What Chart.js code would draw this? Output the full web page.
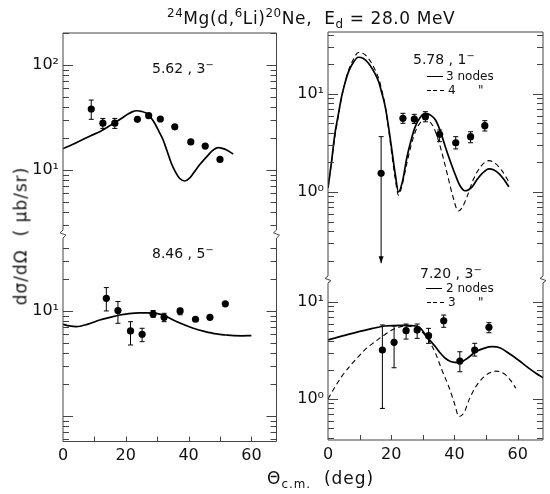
<!DOCTYPE html>
<html>
<head>
<meta charset="utf-8">
<script src="https://cdn.jsdelivr.net/npm/chart.js@4.4.0/dist/chart.umd.min.js"></script>
<style>
html,body{margin:0;padding:0;background:#fff;}
#fig{position:relative;width:550px;height:494px;overflow:hidden;font-family:"DejaVu Sans",sans-serif;color:#111;}
#fig canvas{position:absolute;left:0;top:0;}
.t{position:absolute;white-space:nowrap;line-height:1;}
.t sup{font-size:0.7em;vertical-align:0.55em;line-height:0;}
.t sub{font-size:0.7em;vertical-align:-0.35em;line-height:0;}
.ls{position:absolute;height:0;border-top:1.6px solid #000;width:16px;}
.ld{position:absolute;height:1.2px;width:17px;background:repeating-linear-gradient(to right,#000 0 4px,transparent 4px 6.5px);}
</style>
</head>
<body>
<div id="fig">
<canvas id="cUL" width="550" height="494"></canvas>
<canvas id="cLL" width="550" height="494"></canvas>
<canvas id="cUR" width="550" height="494"></canvas>
<canvas id="cLR" width="550" height="494"></canvas>

<div class="t" style="left:167px;top:10px;font-size:17px;letter-spacing:0.6px;"><sup>24</sup>Mg(d,<sup>6</sup>Li)<sup>20</sup>Ne,&nbsp; E<sub>d</sub> = 28.0 MeV</div>
<div class="t" style="left:21px;top:236px;font-size:17px;letter-spacing:1px;transform:translate(-50%,-50%) rotate(-90deg);">dσ/dΩ&nbsp; ( μb/sr)</div>
<div class="t" style="left:267px;top:470px;font-size:17px;letter-spacing:1px;">Θ<sub>c.m.</sub>&nbsp; (deg)</div>

<div class="t" style="left:152px;top:61px;font-size:14px;">5.62 , 3<sup>−</sup></div>
<div class="t" style="left:152px;top:246px;font-size:14px;">8.46 , 5<sup>−</sup></div>

<div class="t" style="left:413px;top:52px;font-size:14px;">5.78 , 1<sup>−</sup></div>
<div class="ls" style="left:427px;top:76px;"></div>
<div class="t" style="left:446px;top:70px;font-size:12px;">3 nodes</div>
<div class="ld" style="left:427px;top:90px;"></div>
<div class="t" style="left:448px;top:84px;font-size:12px;">4</div>
<div class="t" style="left:478px;top:84px;font-size:12px;">"</div>

<div class="t" style="left:420px;top:266px;font-size:14px;">7.20 , 3<sup>−</sup></div>
<div class="ls" style="left:426px;top:288px;"></div>
<div class="t" style="left:446px;top:282px;font-size:12px;">2 nodes</div>
<div class="ld" style="left:427px;top:302px;"></div>
<div class="t" style="left:448px;top:296px;font-size:12px;">3</div>
<div class="t" style="left:478px;top:296px;font-size:12px;">"</div>
</div>

<script>
// ---------- data: 5.62 MeV, 3- ----------
const th562 = [9.0, 12.7, 16.5, 23.7, 27.3, 31.0, 35.6, 40.7, 45.3, 50.0];
const xs562 = [38.1, 27.9, 27.9, 30.4, 32.9, 30.6, 25.8, 18.5, 16.9, 12.6];
const lo562 = [30.4, 24.9, 24.9, null, null, null, null, null, null, null];
const hi562 = [46.4, 31.0, 31.0, null, null, null, null, null, null, null];
const thFit562 = [0, 3, 6.3, 9, 11.7, 14.5, 17, 19, 20.7, 22.2, 23.4, 25, 26.6, 28, 29.2, 30.5, 31.9, 33.2, 34.5, 35.8, 37.2, 38.8, 40.2, 41.5, 43.5, 45.8, 47.5, 49.5, 51, 52.1, 54.2];
const fit562 = [16, 17.5, 19.5, 21.3, 23.2, 26, 28.8, 31.5, 34.1, 36, 36.7, 36.2, 34.7, 31.5, 27.9, 23.5, 19.3, 15, 11.6, 9.6, 8.3, 7.85, 8.3, 9.3, 11.2, 13.4, 15.2, 16.3, 16, 15.5, 14.2];

// ---------- data: 8.46 MeV, 5- ----------
const th846 = [13.8, 17.5, 21.5, 25.2, 28.7, 32.2, 37.3, 42.2, 46.8, 51.7];
const xs846 = [13.2, 10.1, 6.45, 6.0, 9.36, 8.7, 10.0, 8.34, 8.7, 11.7];
const lo846 = [10.0, 7.63, 4.74, 5.1, 8.7, 7.9, 9.2, null, null, null];
const hi846 = [16.7, 12.3, 7.9, 6.84, 10.1, 9.5, 10.6, null, null, null];
const thFit846 = [0, 2, 4.2, 8, 11.7, 15, 18, 21, 24.4, 27, 29.8, 32.5, 35.1, 38, 41.5, 45, 48.9, 52, 54.3, 57, 60];
const fit846 = [7.47, 7.2, 7.08, 7.5, 8.2, 8.7, 9.16, 9.45, 9.6, 9.6, 9.5, 9.0, 8.2, 7.5, 6.84, 6.4, 6.04, 5.9, 5.82, 5.8, 5.82];

// ---------- data: 5.78 MeV, 1- ----------
const th578 = [16.8, 23.7, 27.3, 30.8, 35.3, 40.4, 45.1, 49.6];
const xs578 = [1.55, 5.65, 5.56, 5.87, 3.88, 3.18, 3.67, 4.75];
const lo578 = [0.188, 5.02, 5.0, 5.2, 3.26, 2.75, 3.18, 4.19];
const hi578 = [3.67, 6.35, 6.2, 6.6, 4.29, 3.67, 4.12, 5.34];
const arrow578 = [true, false, false, false, false, false, false, false];
const thFit578n3 = [0, 1, 2.2, 3.2, 4.3, 5.4, 6.5, 8, 9.6, 11.2, 12.8, 14.4, 16, 17, 18.1, 19.2, 20.2, 21.3, 22.3, 23.6, 25, 26.3, 27.6, 29.2, 30.8, 32.4, 34, 35.5, 37.1, 38.7, 40.3, 41.8, 43.3, 45.6, 47.2, 48.8, 50.9, 52.5, 54, 55.6, 57.2];
const fit578n3 = [1.1, 1.9, 3.97, 6.0, 9.4, 13, 16.9, 21, 23.7, 23, 20.6, 17.2, 13.4, 10.3, 7.42, 4.5, 2.68, 1.5, 1.0, 1.3, 2.29, 3.4, 4.64, 5.8, 6.35, 6.1, 5.43, 4.2, 2.9, 2.05, 1.49, 1.15, 1.03, 1.13, 1.35, 1.55, 1.72, 1.68, 1.55, 1.35, 1.13];
const thFit578n4 = [0, 1, 2.2, 3.2, 4.3, 5.4, 6.5, 8, 9.6, 11.2, 12.8, 14.4, 16, 17, 18, 19, 20, 21.2, 22.3, 23.5, 25, 26.3, 27.6, 29, 30.5, 32, 33.5, 35, 36.5, 38, 39.5, 41.2, 42.5, 44, 46, 48.5, 50.9, 53, 55, 57];
const fit578n4 = [1.1, 1.9, 3.7, 5.8, 9.2, 13.2, 17.5, 22.5, 26.5, 25.8, 23, 19, 14.5, 11, 7.8, 4.8, 2.7, 1.4, 0.93, 1.2, 2.0, 3.0, 4.1, 5.0, 5.6, 5.3, 4.5, 3.3, 2.2, 1.4, 0.9, 0.64, 0.7, 0.9, 1.35, 1.85, 2.09, 1.95, 1.65, 1.3];

// ---------- data: 7.20 MeV, 3- ----------
const th720 = [17.2, 20.9, 24.7, 28.2, 31.8, 36.6, 41.7, 46.4, 50.9];
const xs720 = [3.2, 3.84, 5.06, 5.14, 4.5, 6.41, 2.46, 3.2, 5.49];
const lo720 = [0.80, 2.1, 4.15, 4.22, 3.75, 5.49, 1.91, 2.77, 4.82];
const hi720 = [5.8, 5.65, 5.93, 5.93, 5.35, 7.34, 3.07, 3.75, 6.12];
const thFit720n2 = [0, 6.4, 12.8, 18.1, 23.4, 26, 28.7, 30, 31.3, 32.6, 34, 35.5, 37.1, 39, 41.4, 44, 46.7, 49.5, 52, 54.5, 57.2, 60.5, 63.6, 66, 68];
const fit720n2 = [4.06, 4.64, 5.23, 5.66, 5.75, 5.72, 5.56, 5.0, 4.39, 3.9, 3.46, 2.98, 2.63, 2.42, 2.37, 2.62, 3.07, 3.35, 3.46, 3.35, 2.96, 2.48, 2.07, 1.82, 1.66];
const thFit720n3 = [0, 2, 4.3, 7, 9.6, 12, 14.9, 17.5, 20.2, 22.3, 24.4, 27, 29.7, 32, 34, 36, 38.2, 40, 41.4, 43, 44.6, 46.5, 48.8, 51, 53, 54.6, 56.2, 58, 59.4];
const fit720n3 = [1.0, 1.3, 1.7, 2.2, 2.73, 3.3, 3.9, 4.5, 5.14, 5.5, 5.66, 5.5, 4.94, 3.95, 2.96, 2.0, 1.34, 0.9, 0.66, 0.72, 0.98, 1.3, 1.63, 1.85, 1.94, 1.9, 1.77, 1.52, 1.29];

// ---------- tick labels ----------
const xTickLabels = [0, 20, 40, 60];
const decadeExp = {'0': '10⁰', '1': '10¹', '2': '10²'};

// ---------- helpers ----------
function zeroPad(s) { s.paddingTop = 0; s.paddingBottom = 0; s.paddingLeft = 0; s.paddingRight = 0; }
const YW = 50;   // fixed y-axis box width
const XH = 30;   // fixed x-axis box height (bottom panels)

const framePlugin = {
  id: 'frame',
  afterDatasetsDraw(chart, args, opts) {
    const {ctx, chartArea: a, scales: {x, y}} = chart;
    ctx.save();
    ctx.strokeStyle = '#444';
    ctx.lineWidth = 1;
    ctx.beginPath();
    ctx.moveTo(a.left, a.top); ctx.lineTo(a.left, a.bottom);
    ctx.moveTo(a.right, a.top); ctx.lineTo(a.right, a.bottom);
    if (opts.top) { ctx.moveTo(a.left, a.top); ctx.lineTo(a.right, a.top); }
    if (opts.bottom) { ctx.moveTo(a.left, a.bottom); ctx.lineTo(a.right, a.bottom); }
    const e0 = Math.floor(Math.log10(y.min)), e1 = Math.ceil(Math.log10(y.max));
    for (let e = e0; e <= e1; e++) {
      for (let m = 1; m <= 9; m++) {
        const v = m * Math.pow(10, e);
        if (v < y.min || v > y.max) continue;
        const py = Math.round(y.getPixelForValue(v)) + 0.5;
        const len = m === 1 ? 10 : 6;
        ctx.moveTo(a.left, py); ctx.lineTo(a.left + len, py);
        ctx.moveTo(a.right, py); ctx.lineTo(a.right - len, py);
      }
    }
    if (opts.bottom) {
      for (let t = 10; t <= 60; t += 10) {
        const px = Math.round(x.getPixelForValue(t)) + 0.5;
        ctx.moveTo(px, a.bottom); ctx.lineTo(px, a.bottom - 5);
      }
    }
    if (opts.breakGap) {
      const g = opts.breakGap, b = a.bottom;
      [a.left, a.right].forEach(px => {
        ctx.moveTo(px, b);
        ctx.lineTo(px - 3, b + g * 0.35);
        ctx.lineTo(px + 3, b + g * 0.65);
        ctx.lineTo(px, b + g);
      });
    }
    ctx.stroke();
    ctx.strokeStyle = '#000';
    ctx.fillStyle = '#000';
    chart.data.datasets.forEach(ds => {
      if (!ds.errLo) return;
      ds.data.forEach((p, j) => {
        const l = ds.errLo[j], h = ds.errHi[j];
        if (l == null || h == null) return;
        const px = x.getPixelForValue(p.x);
        const yl = y.getPixelForValue(l), yh = y.getPixelForValue(h);
        const arrow = ds.arrow && ds.arrow[j];
        ctx.beginPath();
        ctx.moveTo(px, yh); ctx.lineTo(px, yl);
        ctx.moveTo(px - 2.5, yh); ctx.lineTo(px + 2.5, yh);
        if (!arrow) { ctx.moveTo(px - 2.5, yl); ctx.lineTo(px + 2.5, yl); }
        ctx.stroke();
        if (arrow) {
          ctx.beginPath();
          ctx.moveTo(px - 2.5, yl - 7); ctx.lineTo(px + 2.5, yl - 7); ctx.lineTo(px, yl);
          ctx.closePath(); ctx.fill();
        }
      });
    });
    ctx.restore();
  }
};

function makePanel(id, cfg) {
  const datasets = [];
  cfg.fits.forEach(f => datasets.push({
    data: f.th.map((t, i) => ({x: t, y: f.v[i]})),
    borderColor: '#000', borderWidth: f.dash ? 1.1 : 1.7,
    borderDash: f.dash ? [5, 3.5] : [], pointRadius: 0, fill: false,
    cubicInterpolationMode: 'monotone'
  }));
  datasets.push({
    data: cfg.th.map((t, i) => ({x: t, y: cfg.v[i]})),
    showLine: false, pointRadius: 3.6, pointBackgroundColor: '#000',
    pointBorderColor: '#000', pointBorderWidth: 0,
    errLo: cfg.lo, errHi: cfg.hi, arrow: cfg.arrow
  });
  const tickFont = {family: 'DejaVu Sans', size: 16};
  const xh = cfg.bottom ? XH : 0;
  const pad = {left: cfg.area.left - YW, right: 550 - cfg.area.right,
               top: cfg.area.top, bottom: 494 - cfg.area.bottom - xh};
  const yLabel = v => {
    const l = Math.log10(v), r = Math.round(l);
    if (Math.abs(l - r) > 1e-6 || !cfg.yLabels.includes(r)) return '';
    return decadeExp[String(r)];
  };
  return new Chart(document.getElementById(id), {
    type: 'line',
    data: {datasets},
    options: {
      responsive: false, animation: false, events: [],
      layout: {padding: pad},
      plugins: {
        legend: {display: false}, tooltip: {enabled: false},
        frame: {top: cfg.top, bottom: cfg.bottom, breakGap: cfg.breakGap}
      },
      scales: {
        x: {
          type: 'linear', min: 0, max: 68,
          grid: {display: false, drawTicks: false}, border: {display: false},
          ticks: {display: cfg.bottom, stepSize: 20, includeBounds: false, autoSkip: false, maxRotation: 0, padding: 5,
                  color: '#111', font: tickFont, callback: v => (xTickLabels.includes(v) ? String(v) : '')},
          afterFit: s => { s.height = xh; zeroPad(s); }
        },
        y: {
          type: 'logarithmic', min: cfg.ymin, max: cfg.ymax,
          grid: {display: false, drawTicks: false}, border: {display: false},
          ticks: {autoSkip: false, padding: 4, color: '#111', font: tickFont, callback: yLabel},
          afterFit: s => { s.width = YW; zeroPad(s); }
        }
      }
    },
    plugins: [framePlugin]
  });
}

makePanel('cUL', {
  th: th562, v: xs562, lo: lo562, hi: hi562,
  fits: [{th: thFit562, v: fit562}],
  ymin: 2.68, ymax: 202, yLabels: [1, 2], top: true, bottom: false, breakGap: 8,
  area: {left: 63, right: 276.5, top: 33, bottom: 230}
});
makePanel('cLL', {
  th: th846, v: xs846, lo: lo846, hi: hi846,
  fits: [{th: thFit846, v: fit846}],
  ymin: 0.57, ymax: 49.6, yLabels: [1], top: false, bottom: true,
  area: {left: 63, right: 276.5, top: 238, bottom: 441.5}
});
makePanel('cUR', {
  th: th578, v: xs578, lo: lo578, hi: hi578, arrow: arrow578,
  fits: [{th: thFit578n3, v: fit578n3}, {th: thFit578n4, v: fit578n4, dash: true}],
  ymin: 0.139, ymax: 42.9, yLabels: [0, 1], top: true, bottom: false, breakGap: 7,
  area: {left: 328, right: 543, top: 32, bottom: 276}
});
makePanel('cLR', {
  th: th720, v: xs720, lo: lo720, hi: hi720,
  fits: [{th: thFit720n2, v: fit720n2}, {th: thFit720n3, v: fit720n3, dash: true}],
  ymin: 0.378, ymax: 15.7, yLabels: [0, 1], top: false, bottom: true,
  area: {left: 328, right: 543, top: 283, bottom: 440}
});
</script>
</body>
</html>
